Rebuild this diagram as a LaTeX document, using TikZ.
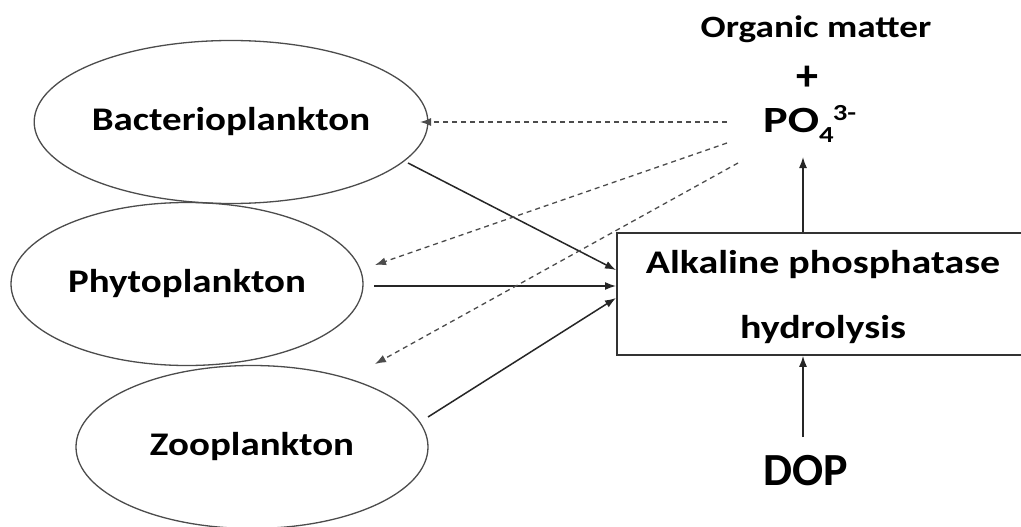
\documentclass[tikz,border=0pt]{standalone}
\usepackage{graphicx}
\usepackage{fontspec}
\setmainfont{Carlito}
\usetikzlibrary{shapes.geometric,arrows.meta}
\newcommand{\hstr}[2]{\scalebox{#1}[1]{#2}}
\tikzset{
  cell/.style={draw=black!70, line width=1.3pt, ellipse, minimum width=352pt, minimum height=163pt, inner sep=0pt, font=\fontsize{33}{40}\selectfont\bfseries},
  procbox/.style={draw=black!80, line width=1.6pt, rectangle, minimum width=412pt, minimum height=122pt, inner sep=0pt},
  boxtext/.style={inner sep=0pt, anchor=base, font=\fontsize{33}{40}\selectfont\bfseries},
  arr/.style={draw=black!85, line width=1.5pt, -{Latex[length=11pt,width=8pt]}},
  dasharr/.style={draw=black!70, line width=1.3pt, dash pattern=on 5pt off 4pt, -{Latex[length=11pt,width=8pt]}},
  lbl/.style={inner sep=0pt, text=black}
}
\begin{document}
\begin{tikzpicture}[x=1pt,y=-1pt]
\useasboundingbox (0,0) rectangle (1021,527);
\fill[white] (0,0) rectangle (1021,527);
% ellipses
\node[cell] (bac) at (231,122) {\hstr{1.18}{Bacterioplankton}};
\node[cell] (phy) at (187,284) {\hstr{1.18}{Phytoplankton}};
\node[cell] (zoo) at (252,447) {\hstr{1.18}{Zooplankton}};
% process box
\node[procbox] (box) at (823,294) {};
\node[boxtext] (boxl1) at (823,273) {\hstr{1.21}{Alkaline phosphatase}};
\node[boxtext] (boxl2) at (823,338) {\hstr{1.21}{hydrolysis}};
% labels
\node[lbl, anchor=base, font=\fontsize{31}{36}\selectfont\bfseries] (org) at (816,38) {\hstr{1.2}{Organic matter}};
\node[lbl, font=\fontsize{44}{48}\selectfont\bfseries] (plus) at (807,78) {+};
\node[lbl, anchor=base west, font=\fontsize{37}{42}\selectfont\bfseries] (po) at (763,132)
  {\hstr{1.25}{PO\rlap{\raisebox{-10pt}{\fontsize{23}{26}\selectfont 4}}\kern11pt\raisebox{12pt}{\fontsize{23}{26}\selectfont 3-}}};
\node[lbl, anchor=base, font=\fontsize{46}{50}\selectfont\bfseries] (dop) at (806,485) {DOP};
% connector end points
\coordinate (bacOut) at (408,163);
\coordinate (phyOut) at (374,286);
\coordinate (zooOut) at (428,417);
\coordinate (boxIn1) at (616,270);
\coordinate (boxIn2) at (616,286);
\coordinate (boxIn3) at (616,298);
\coordinate (poIn) at (803,157);
\coordinate (dopOut) at (803,437);
\coordinate (ds1) at (727,122);
\coordinate (ds2) at (727,143);
\coordinate (ds3) at (738,163);
\coordinate (de1) at (420,122);
\coordinate (de2) at (375,265);
\coordinate (de3) at (375,364);
% solid arrows into box
\draw[arr] (bacOut) -- (boxIn1);
\draw[arr] (phyOut) -- (boxIn2);
\draw[arr] (zooOut) -- (boxIn3);
% vertical arrows
\draw[arr] (box.north -| poIn) -- (poIn);
\draw[arr] (dopOut) -- (box.south -| dopOut);
% dashed arrows
\draw[dasharr] (ds1) -- (de1);
\draw[dasharr] (ds2) -- (de2);
\draw[dasharr] (ds3) -- (de3);
\end{tikzpicture}
\end{document}
